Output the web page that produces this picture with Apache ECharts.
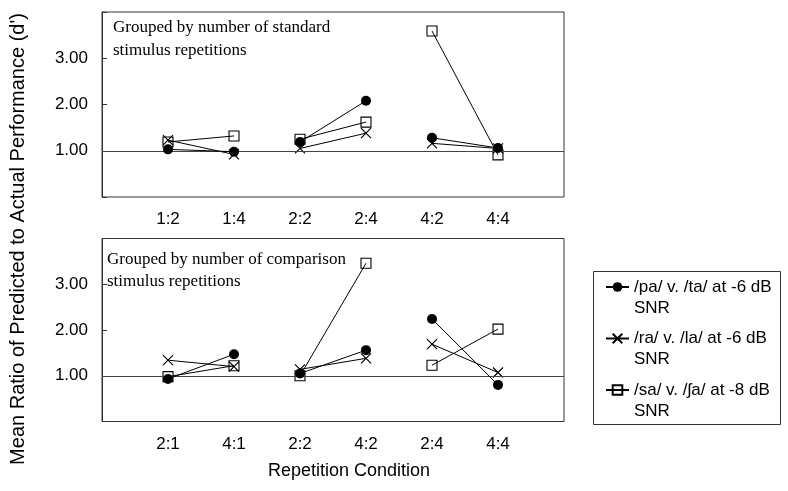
<!DOCTYPE html>
<html>
<head>
<meta charset="utf-8">
<script src="https://cdn.jsdelivr.net/npm/echarts@6/dist/echarts.min.js"></script>
<style>
  html, body { margin: 0; padding: 0; background: #fff; }
  #chart { width: 788px; height: 491px; }
</style>
</head>
<body>
<div id="chart"></div>
<script>
// Repetition conditions on each panel (standard:comparison)
const standardGroups = ['1:2', '1:4', '2:2', '2:4', '4:2', '4:4'];
const comparisonGroups = ['2:1', '4:1', '2:2', '4:2', '2:4', '4:4'];

const contrastNames = [
  '/pa/ v. /ta/ at -6 dB SNR',
  '/ra/ v. /la/ at -6 dB SNR',
  '/sa/ v. /ʃa/ at -8 dB SNR'
];

// Mean ratio of predicted to actual d', grouped by standard repetitions
const standardPa = [1.03, 0.98, 1.19, 2.08, 1.28, 1.06];
const standardRa = [1.23, 0.92, 1.05, 1.38, 1.16, 1.05];
const standardSa = [1.19, 1.32, 1.25, 1.62, 3.59, 0.91];

// Mean ratio of predicted to actual d', grouped by comparison repetitions
const comparisonPa = [0.93, 1.47, 1.05, 1.56, 2.24, 0.80];
const comparisonRa = [1.34, 1.20, 1.14, 1.38, 1.69, 1.07];
const comparisonSa = [0.98, 1.22, 1.00, 3.46, 1.23, 2.02];

const yTickValues = [1, 2, 3];

const FONT = '"Liberation Sans", Arial, sans-serif';
const SERIF = '"Liberation Serif", "Times New Roman", serif';

// Conditions are joined in pairs (x:2 with x:4 and so on); '-' breaks the line between pairs
function pairedPoints(values) {
  const pts = [];
  values.forEach((v, i) => {
    pts.push([i + 1, v]);
    if (i % 2 === 1 && i < values.length - 1) pts.push([i + 1.5, '-']);
  });
  return pts;
}

const markerStyles = [
  { symbol: 'circle', symbolSize: 10, itemStyle: { color: '#000', borderWidth: 0 } },
  { symbol: 'path://M0,0L10,10M10,0L0,10', symbolSize: 10,
    itemStyle: { color: 'rgba(0,0,0,0)', borderColor: '#000', borderWidth: 1.2 } },
  { symbol: 'rect', symbolSize: 10,
    itemStyle: { color: 'rgba(0,0,0,0)', borderColor: '#000', borderWidth: 1.1 } }
];

const panels = [
  { cats: standardGroups, values: [standardPa, standardRa, standardSa] },
  { cats: comparisonGroups, values: [comparisonPa, comparisonRa, comparisonSa] }
];

const series = [];
panels.forEach((panel, p) => {
  // squares first, then crosses, circles on top
  [2, 1, 0].forEach((k, order) => {
    const s = Object.assign({
      type: 'line',
      name: contrastNames[k],
      xAxisIndex: p,
      yAxisIndex: p,
      data: pairedPoints(panel.values[k]),
      connectNulls: false,
      showAllSymbol: true,
      lineStyle: { color: '#000', width: 1 },
      emphasis: { disabled: true },
      z: 3 + order
    }, markerStyles[k]);
    if (order === 0) {
      s.markLine = {
        silent: true,
        symbol: ['none', 'none'],
        label: { show: false },
        lineStyle: { color: '#444', width: 1, type: 'solid' },
        data: [{ yAxis: 1 }]
      };
    }
    series.push(s);
  });
});

const gridLeft = 102, gridWidth = 462;

function makeXAxis(idx, cats, margin) {
  return {
    type: 'value', gridIndex: idx, min: 0, max: 7, interval: 1,
    axisLine: { show: false }, axisTick: { show: false }, splitLine: { show: false },
    axisLabel: {
      margin: margin, color: '#000', fontFamily: FONT, fontSize: 17,
      formatter: v => cats[v - 1] || ''
    }
  };
}

function makeYAxis(idx) {
  return {
    type: 'value', gridIndex: idx, min: 0, max: 4, interval: 1,
    axisLine: { show: true, lineStyle: { color: '#333' } },
    axisTick: { show: true, inside: true, length: 5, lineStyle: { color: '#333' } },
    splitLine: { show: false },
    axisLabel: {
      margin: 14, color: '#000', fontFamily: FONT, fontSize: 17,
      formatter: v => yTickValues.indexOf(v) >= 0 ? v.toFixed(2) : ''
    }
  };
}

const chart = echarts.init(document.getElementById('chart'), null, { renderer: 'canvas' });
chart.setOption({
  animation: false,
  backgroundColor: '#fff',
  grid: [
    { left: gridLeft, top: 12, width: gridWidth, height: 185, show: true,
      borderColor: '#333', borderWidth: 1, backgroundColor: 'transparent' },
    { left: gridLeft, top: 238.5, width: gridWidth, height: 183, show: true,
      borderColor: '#333', borderWidth: 1, backgroundColor: 'transparent' }
  ],
  xAxis: [makeXAxis(0, standardGroups, 14), makeXAxis(1, comparisonGroups, 14)],
  yAxis: [makeYAxis(0), makeYAxis(1)],
  legend: {
    orient: 'vertical',
    left: 605,
    top: 255.5,
    padding: 0,
    itemGap: -11.5,
    itemWidth: 23,
    itemHeight: 12,
    selectedMode: false,
    data: contrastNames,
    // leading blank line keeps the marker level with the first text line
    formatter: name => '\n' + name.replace(' SNR', '\nSNR'),
    textStyle: { color: '#000', fontFamily: FONT, fontSize: 17, lineHeight: 21 }
  },
  graphic: [
    { type: 'rect', silent: true, z: 10,
      shape: { x: 593.5, y: 271.5, width: 187, height: 153 },
      style: { fill: 'none', stroke: '#333', lineWidth: 1 } },
    { type: 'text', silent: true, z: 10, x: 113, y: 16.5,
      style: { text: 'Grouped by number of standard\nstimulus repetitions',
        font: '17px ' + SERIF, lineHeight: 23, fill: '#000' } },
    { type: 'text', silent: true, z: 10, x: 107, y: 249,
      style: { text: 'Grouped by number of comparison\nstimulus repetitions',
        font: '17px ' + SERIF, lineHeight: 22, fill: '#000' } },
    { type: 'text', silent: true, z: 10, x: 18, y: 239, rotation: Math.PI / 2,
      style: { text: "Mean Ratio of Predicted to Actual Performance (d')",
        font: '20px ' + FONT, fill: '#000', align: 'center', verticalAlign: 'middle' } },
    { type: 'text', silent: true, z: 10, x: 349, y: 471,
      style: { text: 'Repetition Condition',
        font: '18px ' + FONT, fill: '#000', align: 'center', verticalAlign: 'middle' } }
  ],
  series: series
});
</script>
</body>
</html>
